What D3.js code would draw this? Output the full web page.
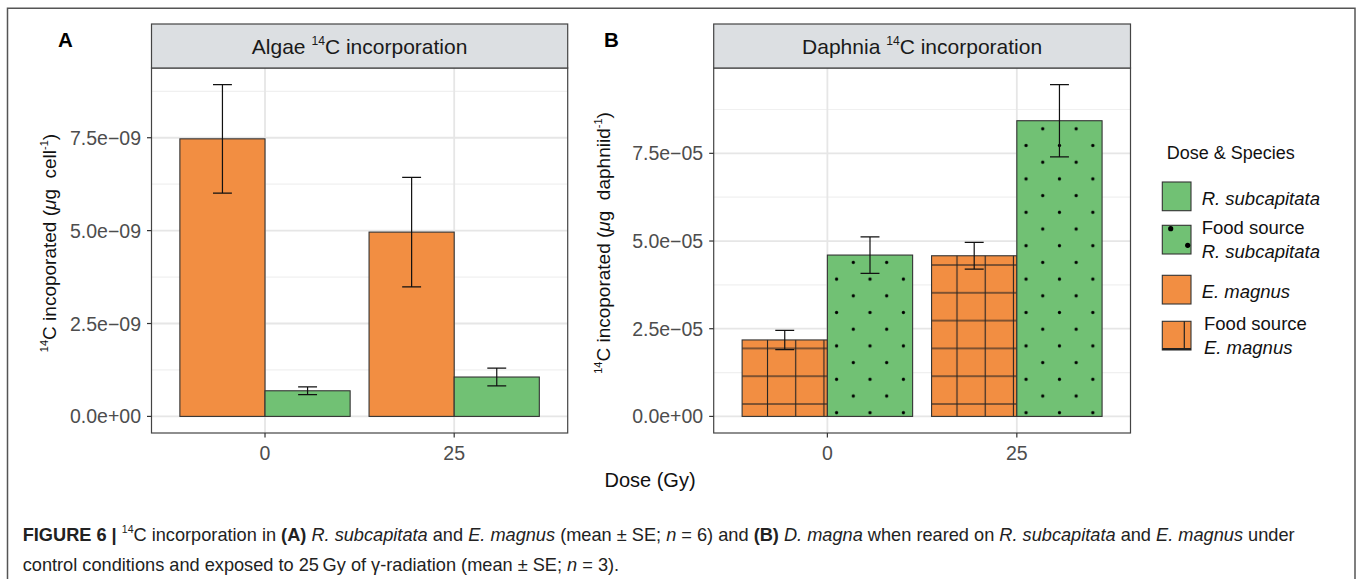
<!DOCTYPE html>
<html>
<head>
<meta charset="utf-8">
<script src="https://cdn.jsdelivr.net/npm/d3@7"></script>
<style>
  body { margin: 0; background: #fff; }
  svg text { font-family: "Liberation Sans", Arial, Helvetica, sans-serif; white-space: pre; }
</style>
</head>
<body>
<svg id="fig" width="1357" height="579"></svg>
<script>
// ---- data ----
var doses = [0, 25];

// panel A : algae 14C incorporation (ug per cell)
var algaeEmagnusMean = [7.47e-9, 4.96e-9];
var algaeEmagnusSE   = [1.46e-9, 1.475e-9];
var algaeRsubMean    = [0.69e-9, 1.06e-9];
var algaeRsubSE      = [0.105e-9, 0.24e-9];

// panel B : daphnia 14C incorporation (ug per daphniid)
var daphEmagnusMean = [2.18e-5, 4.58e-5];
var daphEmagnusSE   = [0.275e-5, 0.38e-5];
var daphRsubMean    = [4.60e-5, 8.43e-5];
var daphRsubSE      = [0.52e-5, 1.03e-5];

var yTicksA = [0, 2.5e-9, 5e-9, 7.5e-9];
var yTickLabelsA = ["0.0e+00", "2.5e\u221209", "5.0e\u221209", "7.5e\u221209"];
var yTicksB = [0, 2.5e-5, 5e-5, 7.5e-5];
var yTickLabelsB = ["0.0e+00", "2.5e\u221205", "5.0e\u221205", "7.5e\u221205"];
var xTickLabels = ["0", "25"];

var legendLabels = [["R. subcapitata"], ["Food source", "R. subcapitata"], ["E. magnus"], ["Food source", "E. magnus"]];

// ---- look ----
var ORANGE = "#f28e42", GREEN = "#71c174";
var plotTop = 68, plotBottom = 433, stripTop = 24;
var xDomain = [-15, 40];
var dodge = 22.5;            // 0.9 * resolution (25 Gy)
var capW = 2.5;
var TICK_FS = 19.5;

var svg = d3.select("#fig");
var defs = svg.append("defs");

function rich(sel, parts, fs) {
  var prevSup = false;
  parts.forEach(function(p) {
    var ts = sel.append("tspan").text(p.t);
    if (p.sup) { ts.attr("font-size", fs * 0.58).attr("dy", -fs * 0.42); }
    else if (prevSup) { ts.attr("dy", fs * 0.42); }
    if (p.it) ts.attr("font-style", "italic");
    if (p.b) ts.attr("font-weight", "bold");
    prevSup = !!p.sup;
  });
}

var patternCount = 0;
function hatchPattern(xc, y0) {
  var id = "hatch" + (patternCount++);
  var w = 28.2, h = 27.8;
  var p = defs.append("pattern").attr("id", id).attr("patternUnits", "userSpaceOnUse")
    .attr("width", w).attr("height", h)
    .attr("x", xc + 11 - w / 2).attr("y", y0 - 12.4 - h / 2);
  p.append("line").attr("x1", w / 2).attr("x2", w / 2).attr("y1", 0).attr("y2", h)
    .attr("stroke", "#222").attr("stroke-width", 1.1);
  p.append("line").attr("x1", 0).attr("x2", w).attr("y1", h / 2).attr("y2", h / 2)
    .attr("stroke", "#222").attr("stroke-width", 1.1);
  return id;
}
function dotPattern(xc, y0) {
  var id = "dots" + (patternCount++);
  var w = 33.4, h = 33.4;
  var p = defs.append("pattern").attr("id", id).attr("patternUnits", "userSpaceOnUse")
    .attr("width", w).attr("height", h)
    .attr("x", xc - w / 4).attr("y", y0 - 3.7 - h / 4);
  p.append("circle").attr("cx", w / 4).attr("cy", h / 4).attr("r", 1.6).attr("fill", "#000");
  p.append("circle").attr("cx", 3 * w / 4).attr("cy", 3 * h / 4).attr("r", 1.6).attr("fill", "#000");
  return id;
}

function drawPanel(cfg) {
  var g = svg.append("g");
  var x = d3.scaleLinear().domain(xDomain).range([cfg.left, cfg.right]);
  var maxVal = d3.max(cfg.series, function(s) {
    return d3.max(s.mean, function(m, i) { return m + s.se[i]; });
  });
  var y = d3.scaleLinear().domain([-0.05 * maxVal, 1.05 * maxVal]).range([plotBottom, plotTop]);
  var step = cfg.ticks[1] - cfg.ticks[0];

  // grid
  var minor = d3.range(step / 2, maxVal * 1.05, step);
  g.selectAll(".minor").data(minor).enter().append("line")
    .attr("x1", cfg.left).attr("x2", cfg.right)
    .attr("y1", function(d) { return y(d); }).attr("y2", function(d) { return y(d); })
    .attr("stroke", "#f0f0f0").attr("stroke-width", 1.2);
  g.selectAll(".major").data(cfg.ticks).enter().append("line")
    .attr("x1", cfg.left).attr("x2", cfg.right)
    .attr("y1", function(d) { return y(d); }).attr("y2", function(d) { return y(d); })
    .attr("stroke", "#e6e6e6").attr("stroke-width", 1.8);
  g.selectAll(".vmajor").data(doses).enter().append("line")
    .attr("y1", plotTop).attr("y2", plotBottom)
    .attr("x1", function(d) { return x(d); }).attr("x2", function(d) { return x(d); })
    .attr("stroke", "#e6e6e6").attr("stroke-width", 1.8);

  // bars
  cfg.series.forEach(function(s, k) {
    var off = k === 0 ? -dodge / 2 : 0;
    doses.forEach(function(d, i) {
      var x0 = x(d + off), x1 = x(d + off + dodge / 2);
      var top = y(s.mean[i]), base = y(0);
      g.append("rect").attr("x", x0).attr("y", top).attr("width", x1 - x0).attr("height", base - top)
        .attr("fill", s.color);
      if (s.pattern) {
        var pid = s.pattern === "hatch" ? hatchPattern((x0 + x1) / 2, base) : dotPattern((x0 + x1) / 2, base);
        g.append("rect").attr("x", x0).attr("y", top).attr("width", x1 - x0).attr("height", base - top)
          .attr("fill", "url(#" + pid + ")");
      }
      g.append("rect").attr("x", x0).attr("y", top).attr("width", x1 - x0).attr("height", base - top)
        .attr("fill", "none").attr("stroke", "#333").attr("stroke-width", 1.1);
    });
  });

  // error bars
  cfg.series.forEach(function(s, k) {
    var off = k === 0 ? -dodge / 4 : dodge / 4;
    doses.forEach(function(d, i) {
      var xc = x(d + off), hi = y(s.mean[i] + s.se[i]), lo = y(s.mean[i] - s.se[i]);
      var cl = x(d + off - capW / 2), cr = x(d + off + capW / 2);
      g.append("path")
        .attr("d", "M" + cl + "," + hi + "H" + cr + "M" + xc + "," + hi + "V" + lo + "M" + cl + "," + lo + "H" + cr)
        .attr("fill", "none").attr("stroke", "#111").attr("stroke-width", 1.2);
    });
  });

  // panel border + strip
  g.append("rect").attr("x", cfg.left).attr("y", plotTop).attr("width", cfg.right - cfg.left)
    .attr("height", plotBottom - plotTop).attr("fill", "none").attr("stroke", "#444").attr("stroke-width", 1.2);
  g.append("rect").attr("x", cfg.left).attr("y", stripTop).attr("width", cfg.right - cfg.left)
    .attr("height", plotTop - stripTop).attr("fill", "#dcdfe2").attr("stroke", "#444").attr("stroke-width", 1.2);
  rich(g.append("text").attr("x", (cfg.left + cfg.right) / 2).attr("y", (stripTop + plotTop) / 2 + 7.5)
    .attr("text-anchor", "middle").attr("font-size", 21).attr("fill", "#1a1a1a"), cfg.strip, 21);

  // y axis
  g.selectAll(".yt").data(cfg.ticks).enter().append("line")
    .attr("x1", cfg.left - 4.5).attr("x2", cfg.left)
    .attr("y1", function(d) { return y(d); }).attr("y2", function(d) { return y(d); })
    .attr("stroke", "#333").attr("stroke-width", 1.2);
  g.selectAll(".yl").data(cfg.ticks).enter().append("text")
    .attr("x", cfg.left - 10.5).attr("y", function(d) { return y(d); }).attr("dy", "0.36em")
    .attr("text-anchor", "end").attr("font-size", TICK_FS).attr("fill", "#4d4d4d")
    .text(function(d, i) { return cfg.tickLabels[i]; });

  // x axis
  g.selectAll(".xt").data(doses).enter().append("line")
    .attr("y1", plotBottom).attr("y2", plotBottom + 4.5)
    .attr("x1", function(d) { return x(d); }).attr("x2", function(d) { return x(d); })
    .attr("stroke", "#333").attr("stroke-width", 1.2);
  g.selectAll(".xl").data(doses).enter().append("text")
    .attr("x", function(d) { return x(d); }).attr("y", 452.7).attr("dy", "0.36em")
    .attr("text-anchor", "middle").attr("font-size", TICK_FS).attr("fill", "#4d4d4d")
    .text(function(d, i) { return xTickLabels[i]; });

  // y title
  rich(g.append("text").attr("transform", "translate(" + cfg.titleX + ",243) rotate(-90)")
    .attr("text-anchor", "middle").attr("font-size", 19).attr("fill", "#111"), cfg.yTitle, 19);

  // panel letter
  g.append("text").attr("x", cfg.letterX).attr("y", 47).attr("font-size", 20.5)
    .attr("font-weight", "bold").attr("fill", "#000").text(cfg.letter);
}

drawPanel({
  left: 151.5, right: 567.7, letter: "A", letterX: 58, titleX: 56,
  ticks: yTicksA, tickLabels: yTickLabelsA,
  strip: [{ t: "Algae " }, { t: "14", sup: true }, { t: "C incorporation" }],
  yTitle: [{ t: "14", sup: true }, { t: "C incoporated (" }, { t: "\u03bc", it: true }, { t: "g \u00a0cell" }, { t: "-1", sup: true }, { t: ")" }],
  series: [
    { mean: algaeEmagnusMean, se: algaeEmagnusSE, color: ORANGE },
    { mean: algaeRsubMean, se: algaeRsubSE, color: GREEN }
  ]
});

drawPanel({
  left: 713.7, right: 1130.5, letter: "B", letterX: 604, titleX: 610,
  ticks: yTicksB, tickLabels: yTickLabelsB,
  strip: [{ t: "Daphnia " }, { t: "14", sup: true }, { t: "C incorporation" }],
  yTitle: [{ t: "14", sup: true }, { t: "C incoporated (" }, { t: "\u03bc", it: true }, { t: "g \u00a0daphniid" }, { t: "-1", sup: true }, { t: ")" }],
  series: [
    { mean: daphEmagnusMean, se: daphEmagnusSE, color: ORANGE, pattern: "hatch" },
    { mean: daphRsubMean, se: daphRsubSE, color: GREEN, pattern: "dots" }
  ]
});

// shared x title
svg.append("text").attr("x", 650).attr("y", 480).attr("dy", "0.36em").attr("text-anchor", "middle")
  .attr("font-size", 20).attr("fill", "#111").text("Dose (Gy)");

// ---- legend ----
var leg = svg.append("g");
leg.append("text").attr("x", 1166.7).attr("y", 153).attr("dy", "0.36em").attr("font-size", 18)
  .attr("fill", "#111").text("Dose & Species");
var keyTops = [182, 225.3, 275.3, 321.3], keyS = 28.7, keyX = 1162.3;
var keyFill = [GREEN, GREEN, ORANGE, ORANGE];
legendLabels.forEach(function(lines, i) {
  var t = keyTops[i];
  leg.append("rect").attr("x", keyX).attr("y", t).attr("width", keyS).attr("height", keyS)
    .attr("fill", keyFill[i]).attr("stroke", "#333").attr("stroke-width", 1.1);
  if (i === 1) {
    leg.append("circle").attr("cx", keyX + 8.4).attr("cy", t + 3.4).attr("r", 2.6).attr("fill", "#000");
    leg.append("circle").attr("cx", keyX + 25.4).attr("cy", t + 20).attr("r", 2.6).attr("fill", "#000");
  }
  if (i === 3) {
    leg.append("line").attr("x1", keyX + 22).attr("x2", keyX + 22).attr("y1", t).attr("y2", t + keyS)
      .attr("stroke", "#222").attr("stroke-width", 1.2);
    leg.append("line").attr("x1", keyX).attr("x2", keyX + keyS).attr("y1", t + keyS - 1).attr("y2", t + keyS - 1)
      .attr("stroke", "#222").attr("stroke-width", 2);
  }
  var cy = t + keyS / 2, lx = i === 3 ? 1204 : 1201.7;
  lines.forEach(function(l, j) {
    var yy = lines.length === 1 ? cy + 1.5 : cy + (j - 0.5) * 23.7;
    leg.append("text").attr("x", lx).attr("y", yy).attr("dy", "0.36em").attr("font-size", 18.5)
      .attr("fill", "#111").attr("font-style", l === "Food source" ? "normal" : "italic").text(l);
  });
});

// ---- figure frame + caption ----
svg.append("path").attr("d", "M7.5,579V8.3H1355V579").attr("fill", "none")
  .attr("stroke", "#555").attr("stroke-width", 1.5);

var CAP_FS = 18.2;
var cap1 = svg.append("text").attr("x", 22.7).attr("y", 541).attr("font-size", CAP_FS).attr("fill", "#222");
rich(cap1, [
  { t: "FIGURE 6 | ", b: true }, { t: "14", sup: true }, { t: "C incorporation in " }, { t: "(A)", b: true },
  { t: " " }, { t: "R. subcapitata", it: true }, { t: " and " }, { t: "E. magnus", it: true },
  { t: " (mean \u00b1 SE; " }, { t: "n", it: true }, { t: " = 6) and " }, { t: "(B)", b: true }, { t: " " },
  { t: "D. magna", it: true }, { t: " when reared on " }, { t: "R. subcapitata", it: true }, { t: " and " },
  { t: "E. magnus", it: true }, { t: " under" }
], CAP_FS);
var cap2 = svg.append("text").attr("x", 22.7).attr("y", 571).attr("font-size", CAP_FS).attr("fill", "#222");
rich(cap2, [
  { t: "control conditions and exposed to 25\u2009Gy of \u03b3-radiation (mean \u00b1 SE; " }, { t: "n", it: true }, { t: " = 3)." }
], CAP_FS);
</script>
</body>
</html>
